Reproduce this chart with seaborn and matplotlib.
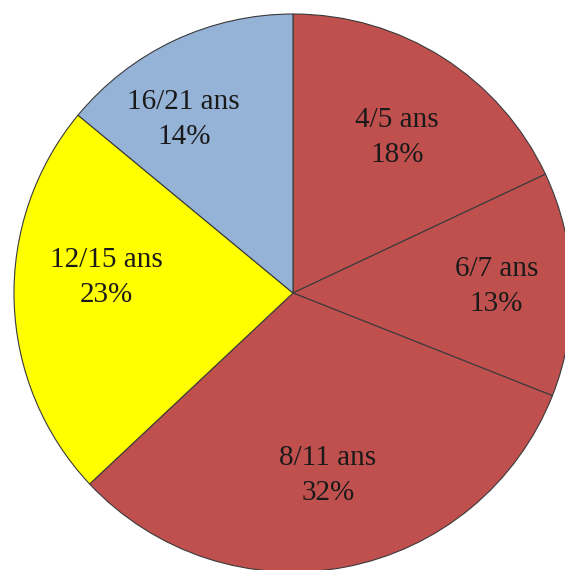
import numpy as np
import matplotlib
matplotlib.use('Agg')
import matplotlib.pyplot as plt
import seaborn as sns

ages = ['4/5 ans', '6/7 ans', '8/11 ans', '12/15 ans', '16/21 ans']
shares = [18, 13, 32, 23, 14]
colors = ['#C0504D', '#C0504D', '#C0504D', '#FFFF00', '#95B3D7']
# Excel "best fit" puts labels at slightly different radii/angles
label_r = [0.67, 0.73, 0.665, 0.67, 0.735]
label_shift = [-1.5, 0, 0, -6.5, 7]

sns.set_theme(style='white')
plt.rcParams['font.family'] = ['Liberation Serif', 'DejaVu Serif']

fig = plt.figure(figsize=(5.65, 5.70), dpi=100)
ax = fig.add_axes([14 / 565, -2 / 570, 558 / 565, 558 / 570])

wedges, _ = ax.pie(shares, colors=colors, startangle=90, counterclock=False,
                   radius=1, wedgeprops=dict(edgecolor='#3a3a3a', linewidth=0.8))

for w, age, pct, r, sh in zip(wedges, ages, shares, label_r, label_shift):
    mid = np.deg2rad((w.theta1 + w.theta2) / 2 + sh)
    ax.text(r * np.cos(mid), r * np.sin(mid), f'{age}\n{pct}%',
            ha='center', va='center', fontsize=21, color='#1a1a1a',
            linespacing=1.45)

ax.set_xlim(-1, 1)
ax.set_ylim(-1, 1)
ax.set_aspect('equal')
ax.axis('off')

fig.savefig('out.png', dpi=100)
